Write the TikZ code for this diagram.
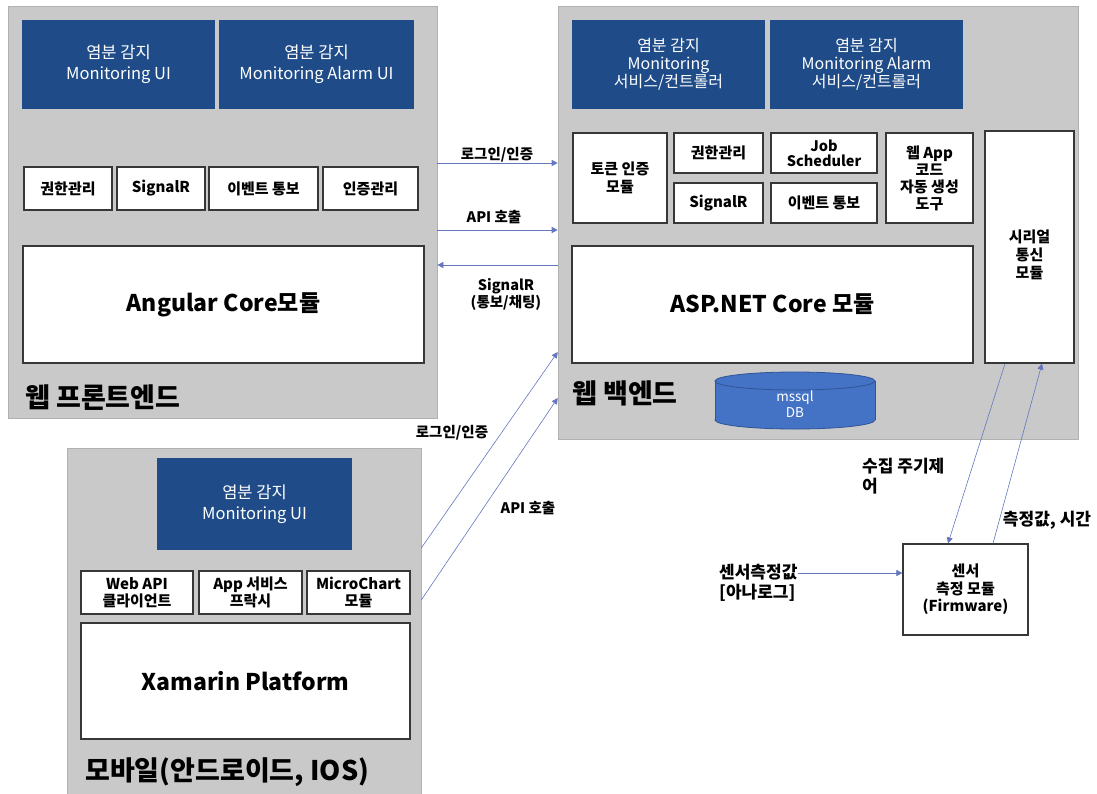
\documentclass[tikz,border=0pt]{standalone}
\usepackage{fontspec}
\setmainfont{Noto Sans CJK KR}
\usetikzlibrary{arrows.meta,calc}
\definecolor{panelgray}{RGB}{201,201,201}
\definecolor{navy}{RGB}{31,76,136}
\definecolor{boxline}{RGB}{55,55,55}
\definecolor{arrowc}{RGB}{100,118,190}
\definecolor{dbfill}{RGB}{68,114,196}
\definecolor{dbline}{RGB}{47,85,151}
\newcommand\bx[7]{\node[#6, minimum width={#4-#2}, minimum height={#5-#3}] (#1) at ({(#2+#4)/2},{(#3+#5)/2}) {#7};}
\tikzset{
  panel/.style={fill=panelgray, draw=panelgray!88!black, line width=0.6pt, inner sep=0},
  navybox/.style={fill=navy, draw=none, text=white, align=center, inner sep=0,
    font=\fontsize{16.5}{21}\selectfont},
  navythree/.style={navybox, font=\fontsize{16}{18}\selectfont},
  wbox/.style={fill=white, draw=boxline, line width=1.2pt, align=center, inner sep=0,
    font=\fontsize{15}{17.5}\selectfont\bfseries},
  bigbox/.style={wbox, font=\fontsize{23}{27}\selectfont\bfseries},
  arr/.style={draw=arrowc, line width=0.6pt, -{Triangle[length=6pt,width=6pt]}},
  lbl/.style={font=\fontsize{14.5}{17}\selectfont\bfseries, inner sep=0, align=center},
  slbl/.style={font=\fontsize{17}{20}\selectfont\bfseries, inner sep=0},
  plabel/.style={font=\fontsize{27}{31}\selectfont\bfseries, anchor=west, inner sep=0},
}
\begin{document}
\begin{tikzpicture}[x=1pt,y=-1pt]
\useasboundingbox (0,0) rectangle (1097,793);
% panels
\bx{front}{8}{6}{437}{418}{panel}{}
\bx{back}{558}{6}{1078}{439}{panel}{}
\bx{mob}{67}{448}{421}{800}{panel}{}

% front panel
\bx{fb1}{22}{20}{215}{109}{navybox}{염분 감지\\Monitoring UI}
\bx{fb2}{219}{20}{414}{109}{navybox}{염분 감지\\Monitoring Alarm UI}
\bx{fs1}{24}{167}{112}{210}{wbox}{권한관리}
\bx{fs2}{117}{167}{205}{210}{wbox}{SignalR}
\bx{fs3}{209}{167}{318}{210}{wbox}{이벤트 통보}
\bx{fs4}{323}{167}{418}{210}{wbox}{인증관리}
\bx{fcore}{23}{246}{424}{363}{bigbox}{Angular Core모듈}
\node[plabel] (flabel) at (25,398) {웹 프론트엔드};

% back panel
\bx{bb1}{572}{20}{765}{109}{navythree}{염분 감지\\Monitoring\\서비스/컨트롤러}
\bx{bb2}{770}{20}{963}{109}{navythree}{염분 감지\\Monitoring Alarm\\서비스/컨트롤러}
\bx{bs1}{573}{133}{667}{223}{wbox}{토큰 인증\\모듈}
\bx{bs2}{674}{133}{763}{173}{wbox}{권한관리}
\bx{bs3}{674}{183}{763}{223}{wbox}{SignalR}
\bx{bs4}{771}{133}{877}{173}{wbox, font=\fontsize{14.5}{15}\selectfont\bfseries}{Job\\Scheduler}
\bx{bs5}{771}{183}{877}{223}{wbox}{이벤트 통보}
\bx{bs6}{886}{133}{973}{223}{wbox, font=\fontsize{15}{17}\selectfont\bfseries}{웹 App\\코드\\자동 생성\\도구}
\bx{serial}{985}{131}{1074}{363}{wbox, label={[align=center, inner sep=0, yshift=-8pt, font=\fontsize{15}{18}\selectfont\bfseries]center:{시리얼\\통신\\모듈}}}{}
\bx{bcore}{572}{246}{973}{363}{bigbox}{ASP.NET Core 모듈}
\node[plabel] (blabel) at (572,393) {웹 백엔드};
% database cylinder
\filldraw[fill=dbfill, draw=dbline, line width=0.8pt] (795,420) ellipse [x radius=80, y radius=9];
\fill[dbfill] (715,381) rectangle (875,420);
\draw[dbline, line width=0.8pt] (715,381) -- (715,420) (875,381) -- (875,420);
\filldraw[fill=dbfill, draw=dbline, line width=0.8pt] (795,381) ellipse [x radius=80, y radius=9];
\node[text=white, align=center, inner sep=0, font=\fontsize{13.5}{16}\selectfont] (db) at (795,404) {mssql\\DB};

% mobile panel
\bx{mb}{157}{458}{352}{550}{navybox}{염분 감지\\Monitoring UI}
\bx{ms1}{81}{571}{193}{614}{wbox}{Web API\\클라이언트}
\bx{ms2}{199}{571}{302}{614}{wbox}{App 서비스\\프락시}
\bx{ms3}{307}{571}{410}{614}{wbox}{MicroChart\\모듈}
\bx{mcore}{81}{623}{410}{739}{bigbox}{Xamarin Platform}
\node[plabel] (mlabel) at (85,772) {모바일(안드로이드, IOS)};

% sensor
\bx{sensor}{903}{544}{1028}{635}{wbox}{센서\\측정 모듈\\(Firmware)}

% connectors front <-> back
\draw[arr] (front.east |- 0,163) -- (back.west |- 0,163);
\draw[arr] (front.east |- 0,230) -- (back.west |- 0,230);
\draw[arr] (back.west |- 0,265) -- (front.east |- 0,265);
\node[lbl] (l1) at (497,155) {로그인/인증};
\node[lbl] (l2) at (494,217) {API 호출};
\node[lbl] (l3) at (506,294) {SignalR\\(통보/채팅)};

% mobile -> back
\draw[arr] (mob.east |- 0,548) -- (back.west |- 0,352);
\draw[arr] (mob.east |- 0,600) -- (back.west |- 0,398);
\node[lbl] (l4) at (452,433) {로그인/인증};
\node[lbl] (l5) at (528,508) {API 호출};

% serial <-> sensor
\draw[arr] (serial.south -| 1005,0) -- (sensor.north -| 948,0);
\draw[arr] (sensor.north -| 993,0) -- (serial.south -| 1042,0);
\node[slbl, align=left, anchor=north west] (l6) at (862,458) {수집 주기제\\어};
\node[slbl] (l7) at (1047,520) {측정값, 시간};

% analog input
\node[slbl, align=left, anchor=west] (sin) at (719,583) {센서측정값\\{[아나로그]}};
\draw[arr] (sin.east |- 0,573) -- (sensor.west |- 0,573);
\end{tikzpicture}
\end{document}
